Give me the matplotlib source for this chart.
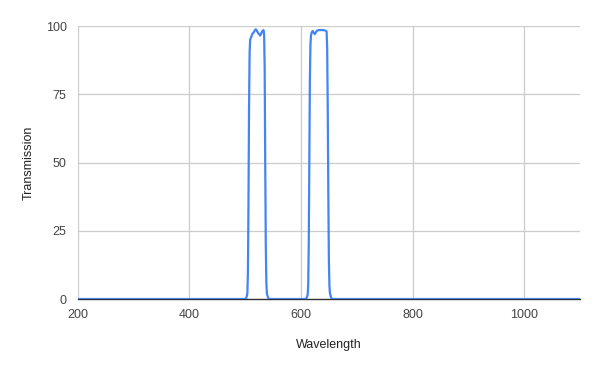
import matplotlib
matplotlib.use("Agg")
import matplotlib.pyplot as plt

plt.rcParams['font.family'] = ['Liberation Sans', 'DejaVu Sans']

wavelength = [200, 500, 502, 504, 505, 506, 507, 508, 509, 511, 513, 515, 517, 519, 521,
              523, 525, 527, 529, 531, 533, 534, 535, 536, 537, 538, 539, 541, 543,
              608, 610, 612, 613, 614, 615, 616, 617, 618, 619, 621, 623, 625, 627, 629,
              632, 636, 640, 644, 646, 647, 648, 649, 650, 651, 652, 654, 656, 1100]
transmission = [0, 0, 0.3, 2, 10, 35, 70, 90, 95, 96, 97.2, 97.5, 98.3, 98.8, 98.3,
                97.5, 97, 96.5, 97.3, 98.2, 98.5, 97, 85, 50, 20, 6, 2, 0.5, 0,
                0, 0.3, 1.5, 5, 20, 50, 80, 93, 96.5, 97.5, 98.2, 97.5, 97, 97.8, 98.3,
                98.5, 98.5, 98.5, 98.3, 98, 92, 70, 40, 15, 5, 2, 0.5, 0, 0]

xticks = [200, 400, 600, 800, 1000]
yticks = [0, 25, 50, 75, 100]

fig = plt.figure(figsize=(5.99, 3.71), dpi=100)
ax = fig.add_axes([77.7 / 599, 72 / 371, (580 - 77.7) / 599, (299 - 26) / 371])

ax.plot(wavelength, transmission, color='#4285F4', linewidth=1.6, solid_joinstyle='round', zorder=3)

ax.set_xlim(200, 1100)
ax.set_ylim(0, 100)
ax.set_xticks(xticks)
ax.set_yticks(yticks)
ax.grid(True, color='#cccccc', linewidth=0.9, zorder=0)
ax.set_axisbelow(True)

for s in ['top', 'right', 'left']:
    ax.spines[s].set_visible(False)
ax.spines['bottom'].set_color('#333333')
ax.spines['bottom'].set_linewidth(1)
ax.spines['bottom'].set_zorder(2)

ax.tick_params(axis='both', length=0, labelsize=9, colors='#444444')
ax.tick_params(axis='x', pad=7)
ax.tick_params(axis='y', pad=8)

ax.set_xlabel('Wavelength', fontsize=9, color='#222222', labelpad=13.5)
ax.set_ylabel('Transmission', fontsize=9, color='#222222', labelpad=8)

fig.savefig('out.png', dpi=100)
